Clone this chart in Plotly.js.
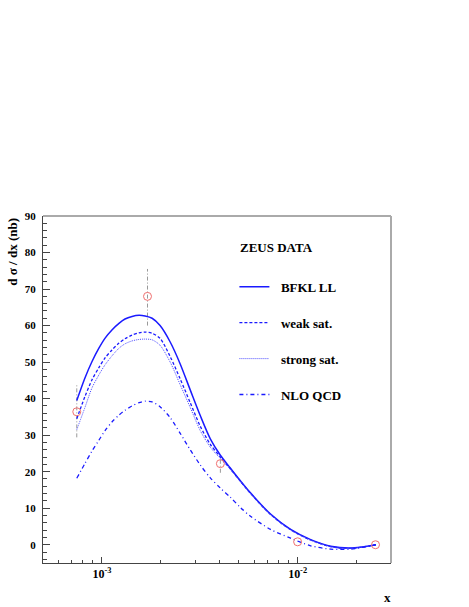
<!DOCTYPE html>
<html><head><meta charset="utf-8">
<script src="https://cdn.plot.ly/plotly-3.0.1.min.js"></script>
<style>html,body{margin:0;padding:0;background:#fff;}#plot{width:469px;height:607px;}</style>
</head><body><div id="plot"></div>
<script>
// ---- data ----
const curveX = [7.44e-4, 8.18e-4, 8.89e-4, 9.65e-4, 1.036e-3, 1.125e-3, 1.222e-3, 1.312e-3, 1.425e-3, 1.548e-3, 1.663e-3, 1.805e-3, 1.982e-3, 2.233e-3, 2.512e-3, 2.826e-3, 3.184e-3, 3.58e-3, 4.03e-3, 4.53e-3, 5.10e-3, 5.74e-3, 7.27e-3, 9.21e-3, 1.166e-2, 1.476e-2, 1.87e-2, 2.51e-2];
const bfkl   = [39.5, 45.6, 50.1, 53.8, 56.5, 58.8, 60.6, 61.8, 62.5, 62.8, 62.6, 62.0, 60.0, 55.5, 49.5, 42.4, 35.3, 29.0, 24.5, 21.0, 17.5, 14.2, 8.4, 4.2, 1.4, -0.4, -0.9, 0.0];
const weak   = [34.5, 40.5, 45.1, 48.5, 51.1, 53.3, 55.2, 56.4, 57.4, 58.0, 58.2, 57.9, 56.5, 51.5, 45.4, 38.9, 32.4, 27.5, 24.0, 20.8, 17.4, 14.1, 8.3, 4.1, 1.3, -0.5, -1.0, 0.0];
const strong = [31.5, 37.5, 42.9, 46.5, 49.2, 51.7, 53.8, 55.0, 55.8, 56.2, 56.3, 56.1, 54.6, 50.0, 43.8, 37.6, 31.2, 26.7, 23.6, 20.6, 17.3, 14.0, 8.2, 4.0, 1.2, -0.6, -1.0, 0.0];
const nlo    = [18.2, 22.2, 25.6, 28.6, 31.2, 33.6, 35.5, 36.8, 38.0, 38.9, 39.3, 39.1, 37.8, 34.8, 30.5, 26.0, 21.8, 18.3, 15.5, 13.0, 10.2, 7.8, 4.2, 1.8, -0.3, -1.2, -1.2, 0.0];

const dataX = [7.44e-4, 1.71e-3, 4.03e-3, 1.0e-2, 2.5e-2];
const dataY = [36.4, 68.0, 22.2, 0.8, 0.0];
const errUp = [7.6, 7.5, 1.6, 0, 0];
const errDown = [7.0, 8.0, 2.5, 0, 0];

const seriesNames = ["BFKL LL", "weak sat.", "strong sat.", "NLO QCD"];
const xMajorTicks = [1e-3, 1e-2];
const xMajorText = ["10<sup>-3</sup>", "10<sup>-2</sup>"];
const xMinorTicks = [6e-4, 7e-4, 8e-4, 9e-4, 2e-3, 3e-3, 4e-3, 5e-3, 6e-3, 7e-3, 8e-3, 9e-3, 2e-2, 3e-2];

// ---- build ----
const blue = '#1a1aff';
const pad = '\u00a0\u00a0';
const errX = [], errY = [];
for (let i = 0; i < dataX.length; i++) {
  if (errUp[i] + errDown[i] > 0) {
    errX.push(dataX[i], dataX[i], null);
    errY.push(dataY[i] - errDown[i], dataY[i] + errUp[i], null);
  }
}
const bold = {family: 'Liberation Serif, Times New Roman, serif', color: '#000', weight: 'bold'};
const traces = [
  {x: errX, y: errY, mode: 'lines', line: {color: '#999', width: 1, dash: '4px,2px,1px,2px'}, showlegend: false, hoverinfo: 'skip'},
  {x: curveX, y: bfkl, mode: 'lines', name: pad + seriesNames[0], line: {color: blue, width: 1.5, shape: 'spline', smoothing: 0.8}, legendgroup: 'a'},
  {x: curveX, y: weak, mode: 'lines', name: pad + seriesNames[1], line: {color: blue, width: 1.3, dash: '3px,2px', shape: 'spline', smoothing: 0.8}, legendgroup: 'b'},
  {x: curveX, y: strong, mode: 'lines', name: pad + seriesNames[2], line: {color: '#4d4dff', width: 1, dash: '1px,1px', shape: 'spline', smoothing: 0.8}, legendgroup: 'c'},
  {x: curveX, y: nlo, mode: 'lines', name: pad + seriesNames[3], line: {color: blue, width: 1.3, dash: '4px,3px,1px,3px', shape: 'spline', smoothing: 0.8}, legendgroup: 'd'},
  {x: dataX, y: dataY, mode: 'markers', marker: {symbol: 'circle-open', size: 8, color: '#f07070', line: {width: 1}}, showlegend: false}
];
const layout = {
  width: 469, height: 607,
  margin: {l: 43, r: 78, t: 216, b: 44},
  paper_bgcolor: '#fff', plot_bgcolor: '#fff',
  showlegend: true,
  legend: {x: 0.55, y: 0.839, xanchor: 'left', yanchor: 'top', bgcolor: 'rgba(0,0,0,0)', borderwidth: 0,
           font: Object.assign({}, bold, {size: 13}), itemwidth: 30, tracegroupgap: 16, traceorder: 'grouped'},
  xaxis: {type: 'log', range: [Math.log10(5e-4), Math.log10(3e-2)], tickmode: 'array', tickvals: xMajorTicks, ticktext: xMajorText,
          ticks: 'inside', ticklen: 6, tickcolor: '#444', showgrid: false, zeroline: false,
          showline: true, linecolor: '#444', linewidth: 1, tickfont: Object.assign({}, bold, {size: 12}),
          minor: {tickmode: 'array', tickvals: xMinorTicks, ticks: 'inside', ticklen: 3, tickcolor: '#444', showgrid: false}},
  yaxis: {range: [-5, 90], dtick: 10, tick0: 0, ticks: 'inside', ticklen: 7, tickcolor: '#444', showgrid: false, zeroline: false,
          showline: true, linecolor: '#444', linewidth: 1, tickfont: Object.assign({}, bold, {size: 11}), ticklabelstandoff: 4,
          minor: {dtick: 2, ticks: 'inside', ticklen: 3.5, tickcolor: '#444', showgrid: false}},
  shapes: [
    {type: 'line', xref: 'paper', yref: 'paper', x0: 0, x1: 1, y0: 1, y1: 1, line: {color: '#aaa', width: 2}},
    {type: 'line', xref: 'paper', yref: 'paper', x0: 1, x1: 1, y0: 0, y1: 1, line: {color: '#aaa', width: 2}}
  ],
  annotations: [
    {text: 'ZEUS DATA', xref: 'paper', yref: 'paper', x: (238 - 43) / 348, y: (563 - 248) / 347, xanchor: 'left', yanchor: 'middle', showarrow: false, font: Object.assign({}, bold, {size: 13})},
    {text: 'd σ / dx (nb)', xref: 'paper', yref: 'paper', x: -0.09, y: 1.0, xanchor: 'center', yanchor: 'top', textangle: -90, showarrow: false, font: Object.assign({}, bold, {size: 13})},
    {text: 'x', xref: 'paper', yref: 'paper', x: (387 - 43) / 348, y: -0.1, xanchor: 'center', yanchor: 'middle', showarrow: false, font: Object.assign({}, bold, {size: 13})}
  ]
};
Plotly.newPlot('plot', traces, layout, {staticPlot: true});
</script></body></html>
